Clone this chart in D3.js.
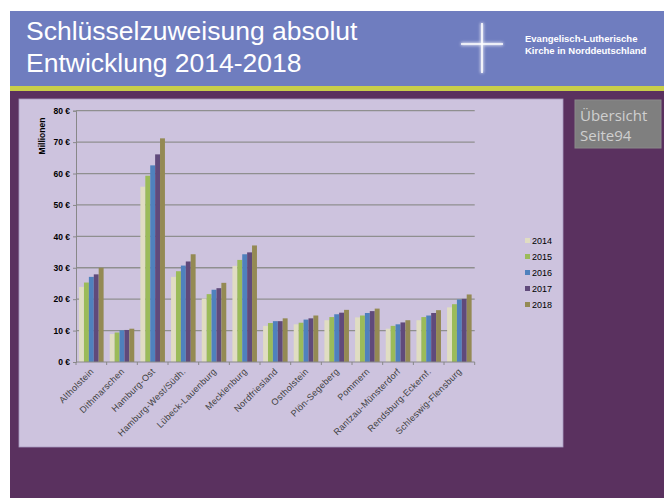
<!DOCTYPE html>
<html>
<head>
<meta charset="utf-8">
<script src="https://cdn.jsdelivr.net/npm/d3@7/dist/d3.min.js"></script>
<style>
  body { margin: 0; background: #fff; }
  svg { display: block; font-family: "Liberation Sans", Arial, sans-serif; }
</style>
</head>
<body>
<script>
// data (Mio. EUR)
var categories = ["Altholstein", "Dithmarschen", "Hamburg-Ost", "Hamburg-West/Südh.",
    "Lübeck-Lauenburg", "Mecklenburg", "Nordfriesland", "Ostholstein", "Plön-Segeberg",
    "Pommern", "Rantzau-Münsterdorf", "Rendsburg-Eckernf.", "Schleswig-Flensburg"];
var years = ["2014", "2015", "2016", "2017", "2018"];
var v2014 = [23.9, 8.9, 55.8, 27.1, 20.2, 30.6, 11.5, 12.0, 13.3, 14.2, 10.6, 13.3, 17.4];
var v2015 = [25.3, 9.4, 59.3, 28.9, 21.6, 32.5, 12.4, 12.5, 14.3, 14.8, 11.5, 14.3, 18.4];
var v2016 = [27.1, 10.1, 62.6, 30.7, 23.0, 34.3, 13.0, 13.5, 15.2, 15.6, 12.0, 14.8, 19.9];
var v2017 = [27.9, 10.2, 66.1, 32.0, 23.5, 34.9, 13.0, 13.9, 15.7, 16.2, 12.6, 15.6, 20.1];
var v2018 = [30.0, 10.6, 71.2, 34.3, 25.2, 37.1, 13.9, 14.8, 16.6, 17.0, 13.3, 16.5, 21.5];
var yTicks = [0, 10, 20, 30, 40, 50, 60, 70, 80];
var series = [v2014, v2015, v2016, v2017, v2018];

var colors = ["#e0ddc2", "#9bbb59", "#4f81bd", "#604a7b", "#948a54"];

var W = 664, H = 498;
var svg = d3.select("body").append("svg")
    .attr("width", W)
    .attr("height", H);

// slide background
svg.append("rect").attr("x", 10).attr("y", 11).attr("width", W - 10).attr("height", 75)
    .attr("fill", "#6f7dbf");
svg.append("rect").attr("x", 10).attr("y", 86).attr("width", W - 10).attr("height", 5)
    .attr("fill", "#c8ce4a");
svg.append("rect").attr("x", 10).attr("y", 91).attr("width", W - 10).attr("height", H - 91)
    .attr("fill", "#5a315f");

// title
svg.append("text").attr("x", 26).attr("y", 40).attr("fill", "#fff")
    .style("font-size", "26.5px").text("Schlüsselzuweisung absolut");
svg.append("text").attr("x", 26).attr("y", 72).attr("fill", "#fff")
    .style("font-size", "26.5px").text("Entwicklung 2014-2018");

// cross logo with glow
var defs = svg.append("defs");
defs.append("filter").attr("id", "glow")
    .append("feGaussianBlur").attr("stdDeviation", 1.5);
var cross = svg.append("g");
[["glow", 3, 0.8], [null, 1.6, 1]].forEach(function(c) {
    var g = cross.append("g").attr("stroke", "#fff").attr("stroke-width", c[1]).attr("opacity", c[2]);
    if (c[0]) g.attr("filter", "url(#glow)");
    g.append("line").attr("x1", 482).attr("x2", 482).attr("y1", 23).attr("y2", 73);
    g.append("line").attr("x1", 461).attr("x2", 503).attr("y1", 44).attr("y2", 44);
});
svg.append("text").attr("x", 525).attr("y", 42).attr("fill", "#fff")
    .style("font-size", "9.5px").style("font-weight", "bold").text("Evangelisch-Lutherische");
svg.append("text").attr("x", 525).attr("y", 54).attr("fill", "#fff")
    .style("font-size", "9.5px").style("font-weight", "bold").text("Kirche in Norddeutschland");

// Übersicht box
svg.append("rect").attr("x", 575).attr("y", 100).attr("width", 86).attr("height", 48)
    .attr("fill", "#7f7f7f").attr("stroke", "#8a8a8a");
svg.append("text").attr("x", 580).attr("y", 121).attr("fill", "#cfcfcf")
    .style("font-family", "'Open Sans', sans-serif").style("font-size", "15px").text("Übersicht");
svg.append("text").attr("x", 580).attr("y", 141).attr("fill", "#cfcfcf")
    .style("font-family", "'Open Sans', sans-serif").style("font-size", "15px").text("Seite94");

// chart area
svg.append("rect").attr("x", 19).attr("y", 99).attr("width", 544).attr("height", 348)
    .attr("fill", "#cdc3de").attr("stroke", "#a89cc0").attr("stroke-width", 0.8);

var plotLeft = 76, plotRight = 474.7, plotTop = 110.7, plotBottom = 362;

var y = d3.scaleLinear().domain([0, 80]).range([plotBottom, plotTop]);
var x0 = d3.scaleBand().domain(categories).range([plotLeft, plotRight])
    .paddingInner(0.2).paddingOuter(0.1);
var x1 = d3.scaleBand().domain(years).range([0, x0.bandwidth()]);

// gridlines
svg.append("g").selectAll("line").data(yTicks.slice(1)).enter().append("line")
    .attr("x1", plotLeft).attr("x2", plotRight)
    .attr("y1", function(d) { return y(d); }).attr("y2", function(d) { return y(d); })
    .attr("stroke", "#8f8f8f").attr("stroke-width", 1.3);

// bars
var groups = svg.append("g").selectAll("g").data(categories).enter().append("g")
    .attr("transform", function(d) { return "translate(" + x0(d) + ",0)"; });
groups.selectAll("rect")
    .data(function(d, i) { return years.map(function(yr, j) { return { year: yr, value: series[j][i] }; }); })
    .enter().append("rect")
    .attr("x", function(d) { return x1(d.year); })
    .attr("width", x1.bandwidth())
    .attr("y", function(d) { return y(d.value); })
    .attr("height", function(d) { return plotBottom - y(d.value); })
    .attr("fill", function(d, j) { return colors[j]; });

// y axis
var yAxis = svg.append("g").attr("transform", "translate(" + plotLeft + ",0)")
    .call(d3.axisLeft(y).tickValues(yTicks).tickSize(3).tickPadding(3)
        .tickFormat(function(d) { return d + " €"; }));
yAxis.select(".domain").attr("stroke", "#888");
yAxis.selectAll(".tick line").attr("stroke", "#888");
yAxis.selectAll("text").attr("fill", "#000").style("font-size", "8.5px")
    .style("font-weight", "bold").style("font-family", "'Liberation Sans', Arial, sans-serif");

svg.append("text")
    .attr("transform", "translate(45,136) rotate(-90)")
    .attr("text-anchor", "middle")
    .style("font-size", "8.5px").style("font-weight", "bold")
    .text("Millionen");

// x axis
var step = x0.step();
svg.append("line").attr("x1", plotLeft).attr("x2", plotRight).attr("y1", plotBottom).attr("y2", plotBottom)
    .attr("stroke", "#888");
svg.append("g").selectAll("line").data(d3.range(categories.length + 1)).enter().append("line")
    .attr("x1", function(i) { return plotLeft + i * step; })
    .attr("x2", function(i) { return plotLeft + i * step; })
    .attr("y1", plotBottom).attr("y2", plotBottom + 3)
    .attr("stroke", "#888");
svg.append("g").selectAll("text").data(categories).enter().append("text")
    .attr("transform", function(d) {
        var cx = x0(d) + x0.bandwidth() / 2 + 3;
        return "translate(" + cx + "," + (plotBottom + 10) + ") rotate(-45)";
    })
    .attr("text-anchor", "end")
    .attr("fill", "#404040")
    .style("font-size", "9px")
    .style("letter-spacing", "0.3px")
    .text(function(d) { return d; });

// legend
var legend = svg.append("g").selectAll("g").data(years).enter().append("g")
    .attr("transform", function(d, i) { return "translate(525," + (240.5 + i * 16) + ")"; });
legend.append("rect").attr("x", 0).attr("y", -2.5).attr("width", 5).attr("height", 5)
    .attr("fill", function(d, i) { return colors[i]; });
legend.append("text").attr("x", 7).attr("y", 3.5)
    .style("font-size", "9px").attr("fill", "#000")
    .text(function(d) { return d; });
</script>
</body>
</html>
